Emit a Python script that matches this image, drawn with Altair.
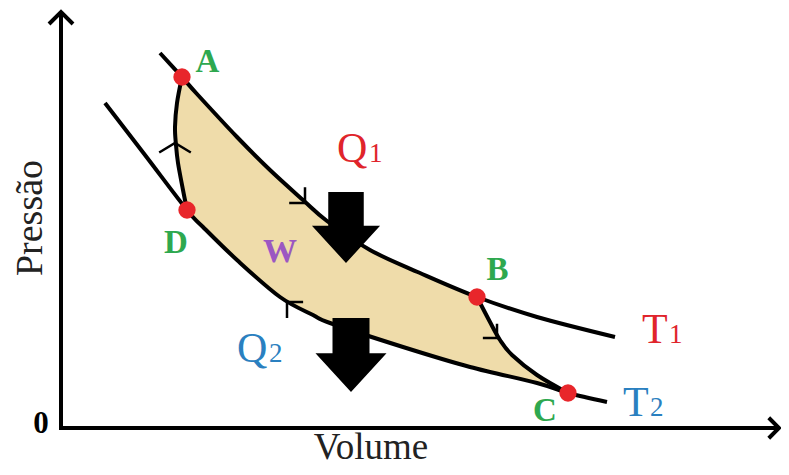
import altair as alt
import pandas as pd

# ---------------- data (volume / pressure in diagram units) ----------------
# Isotherm T1 (hot reservoir)
T1_V = [99, 121, 136, 176, 209, 242, 266, 309, 359, 416, 476, 554]
T1_P = [375, 351, 334, 291, 258, 228, 207, 178, 155, 131, 111, 91]
# Isotherm T2 (cold reservoir)
T2_V = [44, 84, 126, 142, 176, 219, 252, 269, 342, 409, 476, 507, 546]
T2_P = [325, 273, 218, 201, 168, 131, 113, 105, 81, 61, 45, 35, 26]
# Adiabat A -> D
AD_V = [121, 116, 114, 115, 117, 122, 126]
AD_P = [351, 325, 301, 283, 265, 238, 218]
# Adiabat B -> C
BC_V = [416, 429, 439, 451, 476, 507]
BC_P = [131, 106, 88, 73, 53, 35]

# state points (taken from the curves above)
STATES = ["A", "B", "C", "D"]
STATE_V = [T1_V[1], T1_V[9], T2_V[11], T2_V[2]]
STATE_P = [T1_P[1], T1_P[9], T2_P[11], T2_P[2]]

# small direction chevrons on the cycle
CHEV_V = [244, 226, 436]
CHEV_P = [225, 126, 90]
CHEV_ANGLE = [45, 225, 45]
CHEV_SIZE = [500, 520, 400]
CHEV_UP_V = [114]
CHEV_UP_P = [285]

# big heat-flow arrows (centre and height)
ARROW_V = [285, 290]
ARROW_P = [200.5, 73]
ARROW_H = [71, 74]

# letter labels
LABEL_TXT = ["A", "B", "C", "D", "W"]
LABEL_V = [146.5, 436.5, 484, 115, 219]
LABEL_P = [356, 148, 7, 175, 166]
LABEL_COL = ["#2ea84f", "#2ea84f", "#2ea84f", "#2ea84f", "#9b57c2"]
LABEL_SIZE = [33, 33, 33, 33, 34]

SYM_TXT = ["Q", "Q", "T", "T"]
SYM_SUB = ["1", "2", "1", "2"]
SYM_V = [276, 176, 581, 562]
SYM_P = [266, 66, 85, 12]
SUB_V = [308, 208, 608, 589]
SYM_COL = ["#e0242b", "#2a80c0", "#e0242b", "#2a80c0"]

ZERO_LABEL = "0"
X_TITLE = "Volume"
Y_TITLE = "Pressão"

FONT = "Liberation Serif"
FILL = "#efdcaa"

# ---------------- tables ----------------
def curve(vs, ps):
    return pd.DataFrame({"V": vs, "P": ps, "i": range(len(vs))})

poly_V = T1_V[1:10] + BC_V[1:] + T2_V[2:11][::-1] + AD_V[1:6][::-1]
poly_P = T1_P[1:10] + BC_P[1:] + T2_P[2:11][::-1] + AD_P[1:6][::-1]
poly = curve(poly_V, poly_P)

curves = pd.concat([
    curve(T1_V, T1_P).assign(c="T1"),
    curve(T2_V, T2_P).assign(c="T2"),
    curve(AD_V, AD_P).assign(c="AD"),
    curve(BC_V, BC_P).assign(c="BC"),
])

xs = alt.Scale(domain=[-53, 720], nice=False, zero=False)
ys = alt.Scale(domain=[-39, 420], nice=False, zero=False)
X = alt.X("V:Q", scale=xs, axis=None)
Y = alt.Y("P:Q", scale=ys, axis=None)

fill_layer = alt.Chart(poly).mark_line(
    fill=FILL, stroke=FILL, strokeWidth=1, interpolate="linear"
).encode(x=X, y=Y, order=alt.Order("i:Q"))

curve_layer = alt.Chart(curves).mark_line(
    color="black", strokeWidth=4, interpolate="cardinal"
).encode(x=X, y=Y, detail="c:N", order=alt.Order("i:Q"))

chev = pd.DataFrame({"V": CHEV_V, "P": CHEV_P, "a": CHEV_ANGLE, "s": CHEV_SIZE})
chev_layer = alt.Chart(chev).mark_point(
    shape="M-1,-1L0,0L-1,1", filled=False, color="black", strokeWidth=2.5, opacity=1
).encode(x=X, y=Y, angle=alt.Angle("a:Q", scale=None), size=alt.Size("s:Q", scale=None))

chev_up = pd.DataFrame({"V": CHEV_UP_V, "P": CHEV_UP_P})
chev_up_layer = alt.Chart(chev_up).mark_point(
    shape="M-0.6,-1L0,0L-0.6,1", filled=False, color="black", strokeWidth=2.5,
    opacity=1, angle=270, size=1000
).encode(x=X, y=Y)

arrows = pd.DataFrame({"V": ARROW_V, "P": ARROW_P, "s": [h * h for h in ARROW_H]})
arrow_layer = alt.Chart(arrows).mark_point(
    shape="M-0.5,-1L0.5,-1L0.5,-0.05L0.96,-0.05L0,1L-0.96,-0.05L-0.5,-0.05Z",
    filled=True, color="black", opacity=1, strokeWidth=0
).encode(x=X, y=Y, size=alt.Size("s:Q", scale=None))

axes_df = pd.DataFrame({"V": [0, -2], "P": [-2, 0], "V2": [0, 718], "P2": [416, 0]})
axis_layer = alt.Chart(axes_df).mark_rule(color="black", strokeWidth=4).encode(
    x=X, y=Y, x2="V2:Q", y2="P2:Q"
)
heads = pd.DataFrame({"V": [0, 718], "P": [416, 0], "a": [270, 0], "s": [576, 420]})
head_layer = alt.Chart(heads).mark_point(
    shape="M-1,-1L0,0L-1,1", filled=False, color="black", strokeWidth=4, opacity=1
).encode(x=X, y=Y, angle=alt.Angle("a:Q", scale=None), size=alt.Size("s:Q", scale=None))

dots = pd.DataFrame({"V": STATE_V, "P": STATE_P, "n": STATES})
dot_layer = alt.Chart(dots).mark_circle(color="#e8262b", size=300, opacity=1).encode(x=X, y=Y)


def text_layer(df, size, weight="normal", align="left", angle=0):
    enc = dict(x=X, y=Y, text="t:N", color=alt.Color("c:N", scale=None))
    kw = dict(font=FONT, fontWeight=weight, align=align, baseline="alphabetic", angle=angle)
    if size is None:
        enc["size"] = alt.Size("fs:Q", scale=None)
    else:
        kw["fontSize"] = size
    return alt.Chart(df).mark_text(**kw).encode(**enc)


labels = pd.DataFrame({"t": LABEL_TXT, "V": LABEL_V, "P": LABEL_P, "c": LABEL_COL, "fs": LABEL_SIZE})
syms = pd.DataFrame({"t": SYM_TXT, "V": SYM_V, "P": SYM_P, "c": SYM_COL})
subs = pd.DataFrame({"t": SYM_SUB, "V": SUB_V, "P": SYM_P, "c": SYM_COL})
zero = pd.DataFrame({"t": [ZERO_LABEL], "V": [-20], "P": [-5], "c": ["black"]})
xt = pd.DataFrame({"t": [X_TITLE], "V": [310], "P": [-31], "c": ["#222222"]})
yt = pd.DataFrame({"t": [Y_TITLE], "V": [-19], "P": [210], "c": ["#222222"]})

chart = alt.layer(
    fill_layer,
    curve_layer,
    chev_layer,
    chev_up_layer,
    arrow_layer,
    axis_layer,
    head_layer,
    dot_layer,
    text_layer(labels, None, "bold", align="center"),
    text_layer(zero, 31, "bold", align="center"),
    text_layer(syms, 42),
    text_layer(subs, 27),
    text_layer(xt, 37, align="center"),
    text_layer(yt, 38, align="center", angle=270),
).properties(
    width=773, height=459, padding=0, autosize="none", background="white"
).configure_view(stroke=None)

chart.save("out.html", embed_options={"renderer": "svg", "actions": False})
